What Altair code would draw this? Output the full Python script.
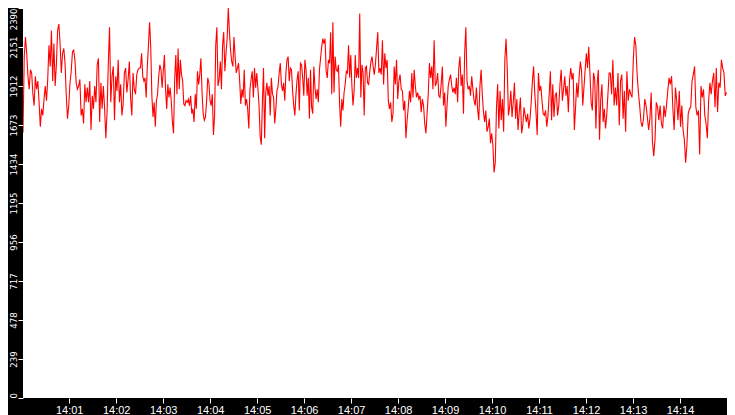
import altair as alt
import pandas as pd

# Values, split in six 150-second windows
seg0 = [1626, 2092, 2212, 2112, 1972, 1892, 2012, 1992, 1862, 1792, 1972, 1892, 1942, 1812, 1662, 1772,
        1732, 1832, 1912, 1822, 1952, 2162, 2032, 2252, 1942, 2172, 1912, 2042, 2252, 2292, 2172, 1992,
        2112, 2142, 2052, 1852, 1712, 1792, 1932, 2002, 2122, 2132, 2072, 1932, 1892, 1912, 1952, 1732,
        1772, 1682, 1922, 1812, 1902, 1812, 1942, 1642, 1852, 1772, 1912, 1812, 2042, 2082, 1692, 1932,
        1772, 1912, 1772, 1592, 1752, 2052, 2272, 1812, 1972, 2032, 1702, 1972, 1882, 2072, 1812, 1922,
        1732, 1802, 1992, 2022, 1872, 1952, 2062, 1842, 1732, 1992, 1892, 1862, 1982, 2012, 2022]
seg1 = [2022, 2112, 1972, 1942, 1962, 1842, 2032, 2162, 2302, 2152, 1852, 1722, 1812, 1662, 1822, 1862,
        1972, 2042, 2012, 1902, 2002, 2102, 1892, 1772, 1922, 1842, 1902, 1822, 1692, 1622, 1952, 2102,
        1862, 2142, 1892, 2072, 1982, 1942, 1802, 1792, 1822, 1812, 1832, 1792, 1852, 1742, 1772, 1692,
        1862, 1772, 2002, 1922, 1982, 2082, 1872, 1742, 1702, 1722, 1822, 1962, 1932, 1822, 1792, 1862,
        1612, 1732, 2162, 2272, 1912, 1952, 2062, 1892, 2162, 2242, 2002, 2112, 2202, 2390, 2242, 2132,
        2062, 2032, 2212, 2092, 1992, 2022, 2052, 1942, 1802, 1892, 1842, 2012, 1792, 1832, 1772, 1652,
        1892, 1952, 2002, 1842, 2022, 1902, 1992]
seg2 = [1892, 1792, 1602, 1552, 1812, 2022, 1592, 1872, 1932, 1852, 1912, 1732, 1962, 1862, 1842, 1682,
        1772, 1882, 1912, 1992, 2052, 1922, 1882, 1932, 1822, 1992, 2072, 2092, 1942, 2022, 2012, 1882,
        1792, 1732, 1862, 1952, 2002, 1762, 2052, 2042, 1962, 1852, 2072, 2012, 1852, 1962, 1712, 2012,
        1782, 1742, 2032, 1902, 1832, 1892, 1812, 2012, 2082, 2152, 2202, 2172, 2202, 2002, 1962, 2072,
        2052, 2242, 1862, 2302, 1872, 2092, 2012, 2002, 2042, 1802, 1662, 1832, 1762, 1872, 1922, 2002,
        1992, 2162, 1962, 2102, 1912, 1792, 1882, 2102, 1962, 2022, 1962, 2356, 1842, 2042, 1992, 1732,
        2022, 2032, 1932, 1922, 2002, 2062, 2092, 2032, 1982]
seg3 = [2042, 2142, 2242, 1992, 2022, 1982, 2192, 1922, 2112, 2022, 2072, 1822, 1772, 1812, 1692, 1742,
        2032, 1922, 2072, 1832, 1942, 1982, 1892, 1882, 1762, 1822, 1592, 1702, 1782, 1882, 1812, 1992,
        1842, 2012, 1912, 1842, 1872, 1832, 1852, 1752, 1832, 1792, 1682, 1622, 1742, 1862, 2052, 1962,
        2032, 1892, 2192, 1912, 1932, 1992, 1852, 1842, 1922, 2032, 1792, 1872, 1662, 1792, 1912, 1952,
        1982, 1912, 1872, 1902, 1862, 1962, 1812, 2022, 2092, 1912, 1982, 1742, 2112, 2272, 1942, 1892,
        1912, 1852, 1972, 1892, 1822, 1792, 1902, 1772, 1702, 1912, 2012, 1862, 1752, 1692, 1762, 1632,
        1662, 1712, 1562, 1622]
seg4 = [1552, 1382, 1442, 1772, 1922, 1652, 1882, 1702, 1832, 1632, 2072, 2202, 2022, 1732, 1782, 1882,
        1722, 1812, 1932, 1712, 1832, 1642, 1752, 1842, 1622, 1672, 1782, 1732, 1692, 1742, 1652, 1712,
        1812, 1942, 2032, 1862, 1752, 1612, 1992, 1882, 1912, 1822, 1742, 1732, 1762, 1662, 1732, 1862,
        2002, 1702, 1922, 1722, 1852, 1872, 1732, 1792, 1922, 2012, 1822, 1892, 1972, 1852, 1912, 1752,
        1952, 2022, 1952, 1992, 1642, 1782, 1932, 1842, 1972, 2062, 2002, 1792, 1902, 2012, 2112, 2022,
        2152, 1992, 1812, 1762, 1992, 1952, 1652, 1922, 2012, 1582, 1832, 1922, 1692, 1772, 1652, 1732,
        1862, 1992]
seg5 = [1992, 1862, 2072, 1792, 1902, 1792, 1992, 1672, 1942, 1982, 1712, 1882, 1632, 2002, 1822, 1892,
        1862, 1842, 2072, 2212, 2162, 1982, 1872, 1792, 1692, 1662, 1712, 1832, 1792, 1722, 1642, 1712,
        1872, 1572, 1482, 1582, 1812, 1782, 1702, 1792, 1682, 1652, 1792, 1722, 1792, 1882, 1962, 1922,
        1972, 1772, 1642, 1902, 1822, 1702, 1882, 1662, 1792, 1642, 1582, 1442, 1552, 1742, 1772, 1782,
        1942, 1982, 2032, 1782, 1732, 1762, 1492, 1912, 1842, 1892, 1732, 1682, 1592, 1822, 1932, 1862,
        1942, 1992, 1782, 2022, 1752, 1932, 1902, 2072, 2022, 1992, 1852, 1872]

segments = [seg0, seg1, seg2, seg3, seg4, seg5]
segment_seconds = 150
start = pd.Timestamp("2024-01-01 14:00:01")

y_ticks = [0, 239, 478, 717, 956, 1195, 1434, 1673, 1912, 2151, 2390]
x_tick_minutes = list(range(1, 15))

rows = []
for k, seg in enumerate(segments):
    n = len(seg)
    for i, v in enumerate(seg):
        t = start + pd.Timedelta(seconds=k * segment_seconds + i * segment_seconds / n)
        rows.append({"time": t, "value": v})
df = pd.DataFrame(rows)

x_domain = [alt.DateTime(year=2024, month=1, date=1, hours=14, minutes=0, seconds=1),
            alt.DateTime(year=2024, month=1, date=1, hours=14, minutes=15, seconds=0)]
x_values = [alt.DateTime(year=2024, month=1, date=1, hours=14, minutes=m) for m in x_tick_minutes]

chart = alt.Chart(df).mark_line(color="#ff0000", strokeWidth=1.1, clip=True).encode(
    x=alt.X("time:T",
            scale=alt.Scale(domain=x_domain, nice=False),
            axis=alt.Axis(title=None, values=x_values, format="%H:%M", domain=False, grid=False,
                          tickColor="white", tickSize=5, labelColor="white",
                          labelFont="Liberation Sans", labelFontSize=11, labelPadding=1,
                          labelFlush=False, labelOverlap=False)),
    y=alt.Y("value:Q",
            scale=alt.Scale(domain=[0, 2390], nice=False, zero=True),
            axis=alt.Axis(title=None, values=y_ticks, format="d", domain=False, grid=False,
                          tickColor="white", tickSize=5, labelColor="white",
                          labelFont="Liberation Sans Narrow, DejaVu Sans Condensed, sans-serif",
                          labelFontSize=9.5, labelPadding=2, labelAngle=270,
                          labelBaseline="alphabetic", labelFlush=False, labelOverlap=False,
                          labelAlign={"condition": [{"test": "datum.value == 0", "value": "left"},
                                                    {"test": "datum.value >= 2390", "value": "right"}],
                                      "value": "center"})),
).properties(
    width=704,
    height=390,
    autosize=alt.AutoSizeParams(type="none"),
    padding={"left": 15, "top": 0, "right": 0, "bottom": 17},
    background="black",
).configure_view(fill="white", stroke=None)

chart.save("out.html", embed_options={"renderer": "svg", "actions": False})
